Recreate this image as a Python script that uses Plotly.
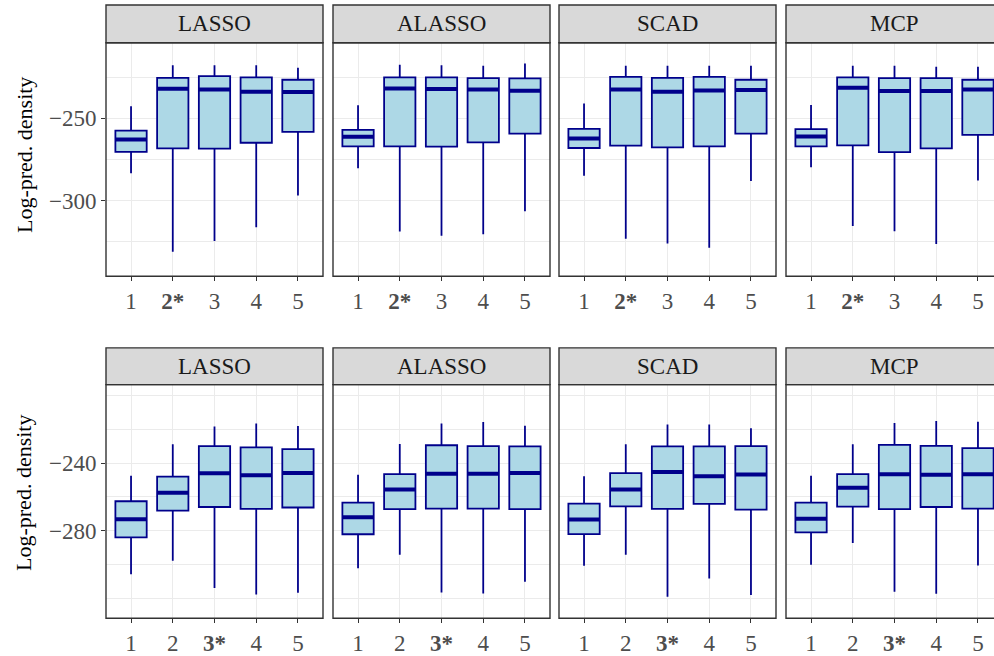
import plotly.graph_objects as go

# ---- data -------------------------------------------------------------
methods = ["LASSO", "ALASSO", "SCAD", "MCP"]
positions = [1, 2, 3, 4, 5]

# top row (best model = 2)
top_labels = ["1", "<b>2*</b>", "3", "4", "5"]
top_upper = {
    "LASSO":  [-242.7, -217.8, -217.8, -217.8, -219.3],
    "ALASSO": [-242.1, -217.5, -217.8, -218.1, -216.7],
    "SCAD":   [-241.1, -218.1, -218.1, -218.1, -218.1],
    "MCP":    [-242.0, -218.1, -218.1, -218.7, -218.7],
}
top_q3 = {
    "LASSO":  [-257.5, -225.4, -224.4, -225.2, -226.6],
    "ALASSO": [-257.1, -225.2, -225.2, -225.6, -225.8],
    "SCAD":   [-256.5, -224.8, -225.4, -224.8, -226.6],
    "MCP":    [-256.6, -225.2, -225.6, -225.6, -226.6],
}
top_median = {
    "LASSO":  [-262.9, -232.0, -232.5, -233.9, -234.1],
    "ALASSO": [-261.3, -231.9, -232.3, -232.6, -233.3],
    "SCAD":   [-262.3, -232.6, -233.9, -233.1, -232.9],
    "MCP":    [-261.1, -231.4, -233.5, -233.5, -232.5],
}
top_q1 = {
    "LASSO":  [-270.4, -268.3, -268.5, -264.9, -258.3],
    "ALASSO": [-267.1, -267.1, -267.3, -264.7, -259.3],
    "SCAD":   [-268.1, -266.7, -267.7, -267.1, -259.3],
    "MCP":    [-267.1, -266.5, -270.6, -268.3, -260.1],
}
top_lower = {
    "LASSO":  [-283.5, -331.2, -324.6, -316.3, -297.0],
    "ALASSO": [-280.4, -318.9, -321.5, -320.5, -306.6],
    "SCAD":   [-284.9, -323.3, -326.2, -328.8, -288.1],
    "MCP":    [-279.8, -315.5, -318.7, -326.4, -287.9],
}

# bottom row (best model = 3)
bot_labels = ["1", "2", "<b>3*</b>", "4", "5"]
bot_upper = {
    "LASSO":  [-247.6, -228.9, -218.5, -216.6, -218.1],
    "ALASSO": [-247.0, -228.7, -216.6, -215.8, -218.0],
    "SCAD":   [-247.8, -228.9, -217.2, -217.2, -219.5],
    "MCP":    [-247.6, -228.9, -216.4, -215.2, -215.6],
}
bot_q3 = {
    "LASSO":  [-262.6, -248.0, -230.0, -230.8, -231.8],
    "ALASSO": [-263.4, -246.6, -229.5, -230.0, -230.2],
    "SCAD":   [-264.0, -246.0, -230.2, -230.2, -230.0],
    "MCP":    [-263.4, -246.6, -229.3, -229.9, -231.2],
}
bot_median = {
    "LASSO":  [-273.2, -257.6, -246.0, -247.2, -245.9],
    "ALASSO": [-272.0, -255.6, -246.4, -246.4, -245.9],
    "SCAD":   [-273.4, -255.6, -245.3, -247.8, -246.8],
    "MCP":    [-273.0, -254.6, -246.6, -247.0, -246.6],
}
bot_q1 = {
    "LASSO":  [-283.9, -268.1, -266.0, -267.1, -266.3],
    "ALASSO": [-282.1, -267.3, -266.9, -266.9, -267.3],
    "SCAD":   [-282.0, -265.6, -267.1, -264.2, -267.5],
    "MCP":    [-281.0, -265.8, -267.3, -266.0, -266.9],
}
bot_lower = {
    "LASSO":  [-305.8, -297.8, -313.8, -317.7, -316.7],
    "ALASSO": [-302.2, -294.2, -316.5, -317.1, -310.2],
    "SCAD":   [-300.7, -294.2, -319.0, -308.3, -318.0],
    "MCP":    [-300.1, -287.2, -316.1, -317.3, -300.5],
}

# axis ticks / grid
top_ytickvals = [-300, -250]
top_yticktext = ["\u2212300", "\u2212250"]
top_yminor = [-325, -275, -225]
top_yrange = [-346.1, -204.1]

bot_ytickvals = [-280, -240]
bot_yticktext = ["\u2212280", "\u2212240"]
bot_yminor = [-320, -300, -260, -220, -200]
bot_yrange = [-331.7, -193.7]

y_title = "Log-pred. density"

# ---- layout geometry (pixels) ------------------------------------------
W, H = 994, 656
panel_left = [106, 333, 559, 786]
panel_w = 217
rows = [
    dict(strip=(5, 43), panel=(43, 278), title_y=156),
    dict(strip=(350, 387), panel=(387, 622), title_y=496),
]
x_lo, x_hi = 0.4, 5.6
px_per_unit = panel_w / (x_hi - x_lo)
box_w = 0.75

FONT = "Liberation Serif"
DARK = "#00008B"
FILL = "#ADD8E6"
BORDER = "#333333"
GRID = "#EBEBEB"

fig = go.Figure()
layout = dict(
    width=W, height=H,
    margin=dict(l=0, r=0, t=0, b=0),
    paper_bgcolor="white", plot_bgcolor="white",
    showlegend=False,
    font=dict(family=FONT, size=23, color="#4D4D4D"),
)
shapes, annotations = [], []

row_data = [
    (top_upper, top_q3, top_median, top_q1, top_lower, top_labels,
     top_ytickvals, top_yticktext, top_yminor, top_yrange),
    (bot_upper, bot_q3, bot_median, bot_q1, bot_lower, bot_labels,
     bot_ytickvals, bot_yticktext, bot_yminor, bot_yrange),
]

k = 0
for r, (up, q3, med, q1, lo, xlabels, ytv, ytt, ymin, yr) in enumerate(row_data):
    geo = rows[r]
    py0, py1 = geo["panel"]
    sy0, sy1 = geo["strip"]
    for c, m in enumerate(methods):
        k += 1
        xa = "x" if k == 1 else f"x{k}"
        ya = "y" if k == 1 else f"y{k}"
        left = panel_left[c]
        right_full = left + panel_w
        right_vis = min(right_full, W)
        xr_hi = x_lo + (right_vis - left) / px_per_unit

        layout["xaxis" if k == 1 else f"xaxis{k}"] = dict(
            domain=[left / W, right_vis / W], anchor=ya,
            range=[x_lo, xr_hi], tickmode="array",
            tickvals=positions, ticktext=xlabels,
            showgrid=True, gridcolor=GRID, gridwidth=1.2,
            zeroline=False, showline=False,
            ticks="outside", ticklen=4, tickwidth=1.2, tickcolor=BORDER,
            tickfont=dict(family=FONT, size=23, color="#4D4D4D"),
            fixedrange=True,
        )
        layout["yaxis" if k == 1 else f"yaxis{k}"] = dict(
            domain=[1 - py1 / H, 1 - py0 / H], anchor=xa,
            range=yr, tickmode="array", tickvals=ytv, ticktext=ytt,
            showticklabels=(c == 0),
            showgrid=True, gridcolor=GRID, gridwidth=1.2,
            minor=dict(tickmode="array", tickvals=ymin, showgrid=True,
                       gridcolor=GRID, gridwidth=1.0, ticks=""),
            zeroline=False, showline=False,
            ticks="outside" if c == 0 else "", ticklen=4, tickwidth=1.2,
            tickcolor=BORDER,
            tickfont=dict(family=FONT, size=23, color="#4D4D4D"),
            fixedrange=True,
        )

        fig.add_trace(go.Box(
            x=positions, q1=q1[m], median=med[m], q3=q3[m],
            lowerfence=lo[m], upperfence=up[m],
            width=box_w, whiskerwidth=0,
            fillcolor=FILL, line=dict(color=DARK, width=1.8),
            xaxis=xa, yaxis=ya, hoverinfo="skip", boxpoints=False,
        ))
        # thicker median bars
        mx, my = [], []
        for p, v in zip(positions, med[m]):
            mx += [p - box_w / 2, p + box_w / 2, None]
            my += [v, v, None]
        fig.add_trace(go.Scatter(
            x=mx, y=my, mode="lines", line=dict(color=DARK, width=4),
            xaxis=xa, yaxis=ya, hoverinfo="skip",
        ))

        # panel border
        shapes.append(dict(
            type="rect", xref="paper", yref="paper",
            x0=left / W, x1=right_full / W,
            y0=1 - py1 / H, y1=1 - py0 / H,
            line=dict(color=BORDER, width=1.4), fillcolor="rgba(0,0,0,0)",
            layer="above",
        ))
        # strip
        shapes.append(dict(
            type="rect", xref="paper", yref="paper",
            x0=left / W, x1=right_full / W,
            y0=1 - sy1 / H, y1=1 - sy0 / H,
            line=dict(color=BORDER, width=1.4), fillcolor="#D9D9D9",
            layer="above",
        ))
        annotations.append(dict(
            text=m, xref="paper", yref="paper",
            x=(left + right_full) / 2 / W, y=1 - (sy0 + sy1) / 2 / H,
            xanchor="center", yanchor="middle", showarrow=False,
            font=dict(family=FONT, size=23, color="#1A1A1A"),
        ))

    annotations.append(dict(
        text=y_title, xref="paper", yref="paper",
        x=24 / W, y=1 - geo["title_y"] / H, textangle=-90,
        xanchor="center", yanchor="middle", showarrow=False,
        font=dict(family=FONT, size=22, color="black"),
    ))

layout["shapes"] = shapes
layout["annotations"] = annotations
fig.update_layout(**layout)
fig.write_html("out.html")
